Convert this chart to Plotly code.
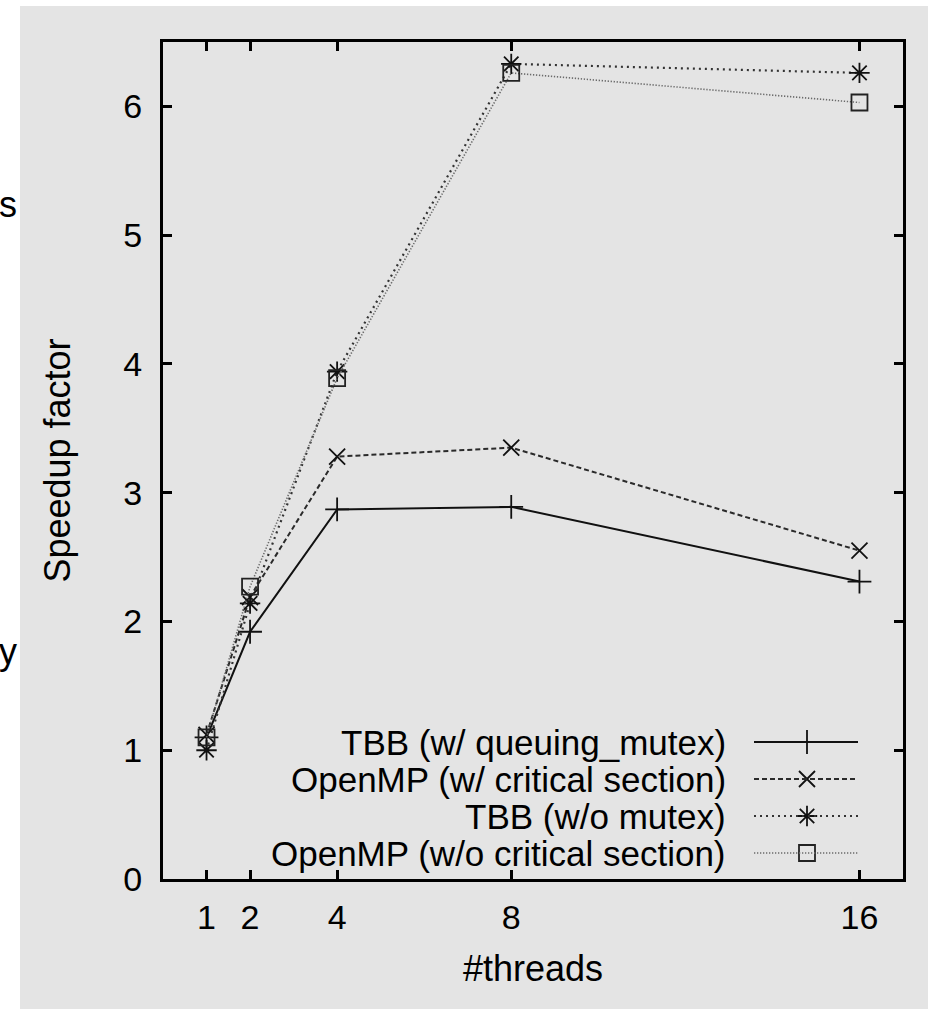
import plotly.graph_objects as go

# Speedup of the parallel versions against thread count
threads = [1, 2, 4, 8, 16]
tbb_queuing_mutex = [1.10, 1.92, 2.87, 2.89, 2.31]
omp_critical = [1.12, 2.19, 3.28, 3.35, 2.55]
tbb_no_mutex = [1.00, 2.14, 3.94, 6.33, 6.26]
omp_no_critical = [1.10, 2.27, 3.89, 6.26, 6.03]

series_names = [
    "TBB (w/ queuing_mutex)",
    "OpenMP (w/ critical section)",
    "TBB (w/o mutex)",
    "OpenMP (w/o critical section)",
]
series_values = [tbb_queuing_mutex, omp_critical, tbb_no_mutex, omp_no_critical]
x_ticks = [1, 2, 4, 8, 16]
y_ticks = [0, 1, 2, 3, 4, 5, 6]

W, H = 928, 1009
L, R, T, B = 163, 25, 42, 130
PW, PH = W - L - R, H - T - B
FONT = "Liberation Sans, Arial, Helvetica, sans-serif"
GRAY = "#e4e4e4"

styles = [
    dict(color="#111111", dash="solid", width=2.0, symbol="cross-thin", msize=17, mcolor="#111111"),
    dict(color="#2a2a2a", dash="5px,3px", width=2.0, symbol="x-thin", msize=16, mcolor="#111111"),
    dict(color="#333333", dash="2px,4px", width=2.2, symbol="asterisk-open", msize=17, mcolor="#111111"),
    dict(color="#6a6a6a", dash="1.3px,1.7px", width=1.6, symbol="square-open", msize=16, mcolor="#222222"),
]


def px_x(p):
    return (p - L) / PW


def px_y(p):
    return (H - B - p) / PH


def marker_style(st):
    # open symbols stroke with the marker colour, thin ones with the line colour
    return dict(symbol=st["symbol"], size=st["msize"], color=st["mcolor"],
                line=dict(color=st["mcolor"], width=1.8))


fig = go.Figure()

for name, vals, st in zip(series_names, series_values, styles):
    fig.add_trace(go.Scatter(
        x=threads, y=vals, name=name, mode="lines+markers",
        line=dict(color=st["color"], dash=st["dash"], width=st["width"]),
        marker=marker_style(st),
        showlegend=False,
    ))

shapes = [
    # grey panel behind the whole chart
    dict(type="rect", xref="paper", yref="paper", layer="below",
         x0=px_x(20), x1=px_x(W + 5), y0=px_y(H + 5), y1=px_y(6),
         fillcolor=GRAY, line=dict(width=0)),
]
annotations = []

# hand-built key: right-aligned labels with line samples to the right
row_px = [742, 779, 816, 853]
text_right = 728
seg_x0, seg_x1, mark_x = 754, 858, 807
key_x, key_y = [], []
for name, st, ry in zip(series_names, styles, row_px):
    annotations.append(dict(
        xref="paper", yref="paper", x=px_x(text_right), y=px_y(ry),
        xanchor="right", yanchor="middle", text=name, showarrow=False,
        font=dict(family=FONT, size=35, color="#000000"),
    ))
    shapes.append(dict(
        type="line", xref="paper", yref="paper",
        x0=px_x(seg_x0), x1=px_x(seg_x1), y0=px_y(ry), y1=px_y(ry),
        line=dict(color=st["color"], dash=st["dash"], width=st["width"]),
    ))
    key_x.append(px_x(mark_x))
    key_y.append(px_y(ry))

for i, st in enumerate(styles):
    fig.add_trace(go.Scatter(
        x=[key_x[i]], y=[key_y[i]], xaxis="x2", yaxis="y2", mode="markers",
        marker=marker_style(st),
        showlegend=False, hoverinfo="skip",
    ))

# clipped letters from the neighbouring column of text
for ch, cy in [("s", 204), ("y", 652)]:
    annotations.append(dict(
        xref="paper", yref="paper", x=px_x(19), y=px_y(cy),
        xanchor="right", yanchor="middle", text=ch, showarrow=False,
        font=dict(family=FONT, size=36, color="#000000"),
    ))

axis_common = dict(
    showline=True, linecolor="#000000", linewidth=3, mirror="allticks",
    ticks="inside", ticklen=9, tickwidth=2.5, tickcolor="#000000",
    showgrid=False, zeroline=False,
    tickfont=dict(family=FONT, size=34, color="#000000"),
)

fig.update_layout(
    width=W, height=H,
    margin=dict(l=L, r=R, t=T, b=B),
    paper_bgcolor="#ffffff", plot_bgcolor=GRAY,
    font=dict(family=FONT, color="#000000"),
    xaxis=dict(range=[0, 17], tickvals=x_ticks, ticktext=[str(v) for v in x_ticks],
               ticklabelstandoff=6,
               title=dict(text="#threads", font=dict(family=FONT, size=36), standoff=22),
               **axis_common),
    yaxis=dict(range=[0, 6.5], tickvals=y_ticks, ticktext=[str(v) for v in y_ticks],
               ticklabelstandoff=11,
               title=dict(text="Speedup factor", font=dict(family=FONT, size=36), standoff=42),
               **axis_common),
    xaxis2=dict(range=[0, 1], domain=[0, 1], overlaying="x", visible=False, fixedrange=True),
    yaxis2=dict(range=[0, 1], domain=[0, 1], overlaying="y", visible=False, fixedrange=True),
    shapes=shapes,
    annotations=annotations,
    showlegend=False,
)

fig.write_html("out.html")
